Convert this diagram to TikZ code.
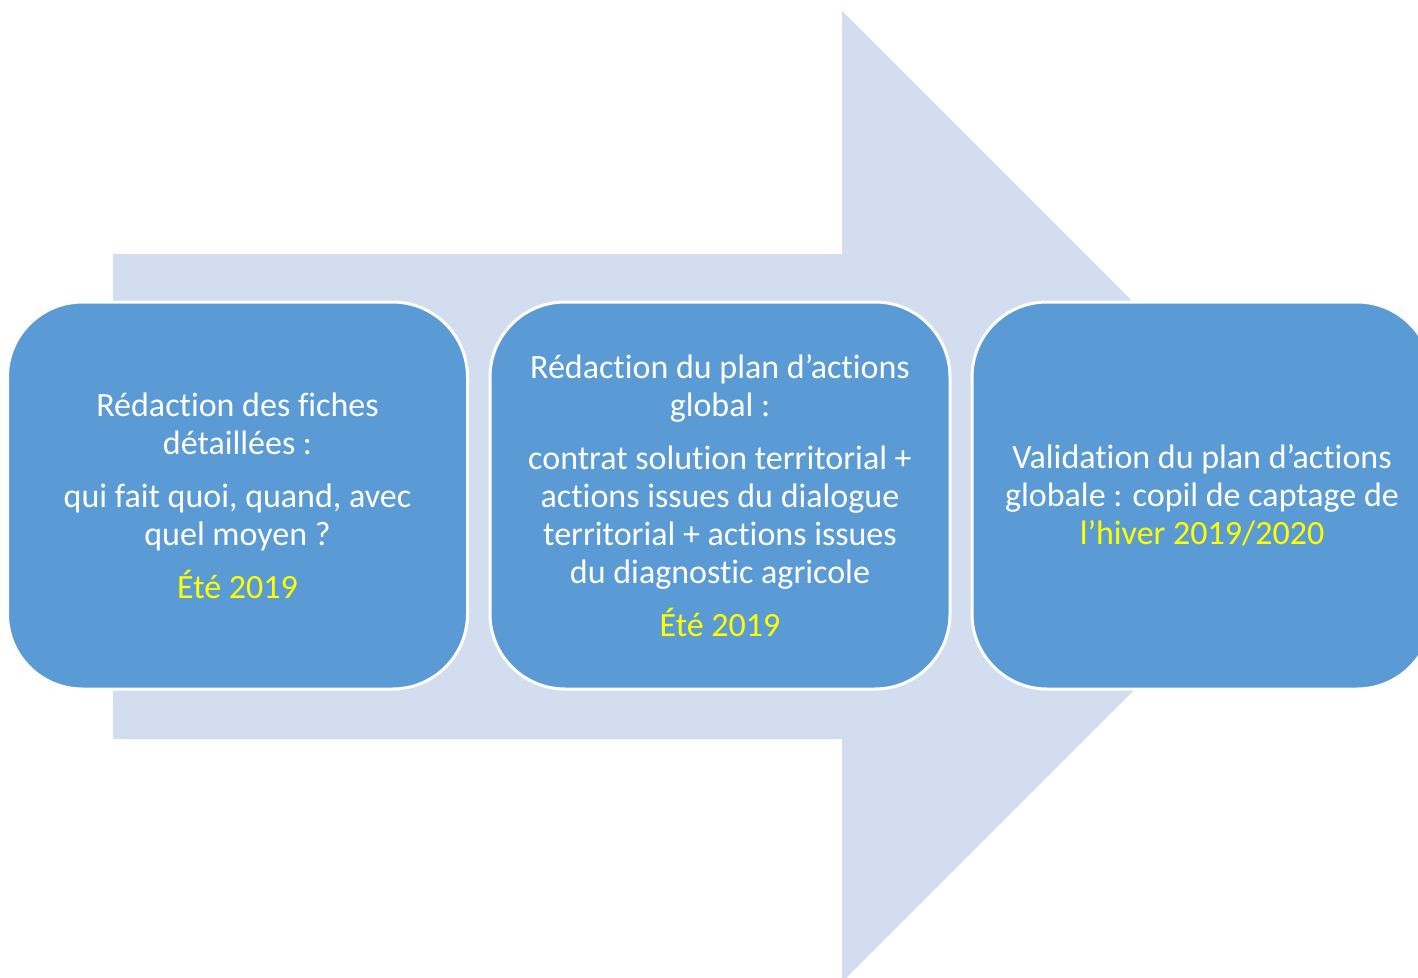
\documentclass[tikz,border=0pt]{standalone}
\usepackage{fontspec}
\setmainfont{Carlito}[Ligatures=NoCommon]
\definecolor{boxblue}{HTML}{5B9BD5}
\definecolor{arrowblue}{HTML}{D2DEEF}
\definecolor{yel}{HTML}{FFFF00}
\begin{document}
\begin{tikzpicture}[x=1pt,y=-1pt,
  stagebox/.style={draw=white, line width=3pt, fill=boxblue, rounded corners=75pt,
    minimum width=460pt, minimum height=387pt, inner sep=0pt, text=white,
    align=center, font=\fontsize{34}{38}\selectfont}]
\useasboundingbox (0,0) rectangle (1418,977);
\clip (0,0) rectangle (1418,977);
\fill[white] (0,0) rectangle (1418,977);
\fill[arrowblue] (113,254) -- (842,254) -- (842,11) -- (1327.5,496.5) -- (842,982) -- (842,739) -- (113,739) -- cycle;
\node[stagebox] (s1) at (237.5,495.5) {Rédaction des fiches\\détaillées :\\[15pt]qui fait quoi, quand, avec\\quel moyen ?\\[15pt]\textcolor{yel}{Été 2019}};
\node[stagebox] (s2) at (720,495.5) {Rédaction du plan d’actions\\global :\\[15pt]contrat solution territorial +\\actions issues du dialogue\\territorial + actions issues\\du diagnostic agricole\\[15pt]\textcolor{yel}{Été 2019}};
\node[stagebox] (s3) at (1202,495.5) {Validation du plan d’actions\\globale : copil de captage de\\\textcolor{yel}{l’hiver 2019/2020}};
\end{tikzpicture}
\end{document}
